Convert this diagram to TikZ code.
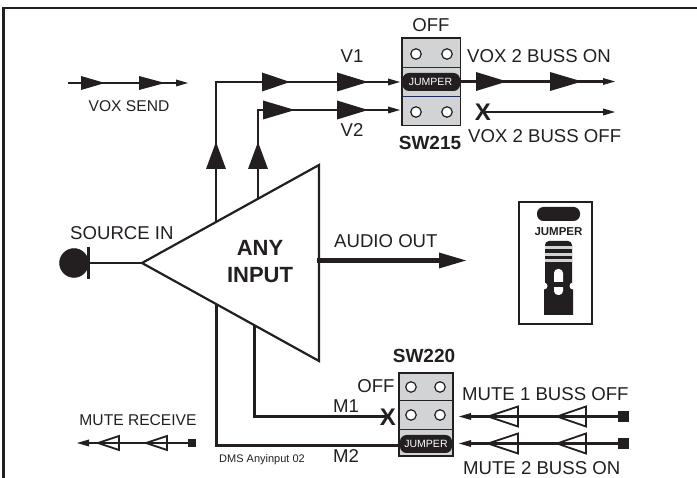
\documentclass[tikz,border=0pt]{standalone}
\usepackage{fontspec}
\setmainfont{Liberation Sans}
\definecolor{ink}{HTML}{231F20}
\definecolor{swgray}{HTML}{D1D3D4}
\definecolor{navy}{HTML}{1F2A5A}
\tikzset{
  x=1pt,y=-1pt,
  wire/.style={draw=ink,line width=2.2pt},
  lab/.style={font=\fontsize{18.6}{19}\selectfont,text=ink,inner sep=0pt,anchor=base west},
  labc/.style={font=\fontsize{18.6}{19}\selectfont,text=ink,inner sep=0pt,anchor=base},
  smallab/.style={font=\fontsize{15.6}{16}\selectfont,text=ink,inner sep=0pt,anchor=base},
  boldlab/.style={font=\bfseries\fontsize{19}{20}\selectfont,text=ink,inner sep=0pt,anchor=base},
  biglab/.style={font=\bfseries\fontsize{22}{23}\selectfont,text=ink,inner sep=0pt,anchor=base},
  xmark/.style={font=\bfseries\fontsize{24}{24}\selectfont,text=ink,inner sep=0pt},
  jump/.style={fill=ink,draw=none,rounded corners=6.5pt},
  jumptext/.style={font=\fontsize{10.5}{11}\selectfont,text=white,inner sep=0pt},
  hole/.style={circle,draw=ink,line width=1.2pt,fill=white,minimum size=10.5pt,inner sep=0pt},
  swbox/.style={draw=ink,line width=1.5pt,fill=swgray},
}
% solid right-pointing head: base x, tip x, y, half width
\newcommand{\hdR}[4]{\fill[ink] (#1,#3-#4) -- (#2,#3) -- (#1,#3+#4) -- cycle;}
% small heads
\newcommand{\tipR}[2]{\fill[ink] (#1-12,#2-3.5) -- (#1,#2) -- (#1-12,#2+3.5) -- cycle;}
\newcommand{\tipL}[2]{\fill[ink] (#1+12,#2-3.5) -- (#1,#2) -- (#1+12,#2+3.5) -- cycle;}
% hollow left-pointing head: tip x, base x, y, half width
\newcommand{\hdL}[4]{\draw[ink,line width=1.8pt,line join=miter] (#1,#3) -- (#2,#3-#4) -- (#2,#3+#4) -- cycle;}
\begin{document}
\begin{tikzpicture}
\useasboundingbox (0,0) rectangle (697,478);
\fill[white] (0,0) rectangle (697,478);
% frame
\draw[ink,line width=2.5pt] (3.5,478) -- (3.5,8) -- (697,8);

% amplifier
\coordinate (apex) at (142,263);
\coordinate (ampT) at (319,165);
\coordinate (ampB) at (319,361);
\coordinate (sourceEnd) at (88,263);
\draw[wire,line join=miter] (apex) -- (ampT) -- (ampB) -- cycle;
\node[biglab] (anyT) at (260,256) {ANY};
\node[biglab] (anyB) at (260,283) {INPUT};

% source
\node[circle,fill=ink,draw=ink,minimum size=29pt,inner sep=0pt] (src) at (74,263) {};
\draw[ink,line width=3pt] (88.5,247) -- (88.5,279);
\draw[wire] (sourceEnd) -- (apex);
\node[lab] (srcl) at (70,240) {SOURCE IN};

% audio out
\coordinate (aoS) at (317,260.5);
\coordinate (aoE) at (442,260.5);
\draw[ink,line width=5pt] (aoS) -- (aoE);
\hdR{439}{466}{260.5}{8}
\node[lab] (aol) at (334,248) {AUDIO OUT};

% VOX SEND legend
\coordinate (vsA) at (68,83);
\coordinate (vsB) at (180,83);
\draw[wire] (vsA) -- (vsB);
\hdR{81}{105}{83}{7}
\hdR{139}{165}{83}{7}
\tipR{188}{83}
\node[smallab] (vs) at (129,112) {VOX SEND};

% V1 / V2 / M1 / M2 runs
\coordinate (v1s) at (216,222);
\coordinate (v1c) at (216,82);
\coordinate (v1e) at (390,82);
\draw[wire] (v1s) -- (v1c) -- (v1e);
\coordinate (v2s) at (258,199);
\coordinate (v2c) at (258,110);
\coordinate (v2e) at (390,110);
\draw[wire] (v2s) -- (v2c) -- (v2e);
\fill[ink] (206,169) -- (216,142) -- (226,169) -- cycle;
\fill[ink] (248,169) -- (258,142) -- (268,169) -- cycle;
\hdR{262}{290}{82}{9.5}
\hdR{337}{368}{82}{9.5}
\tipR{400}{82}
\hdR{263}{295}{110}{9.5}
\hdR{337}{368}{110}{9.5}
\tipR{400}{110}
\node[labc] (v1) at (352,63) {V1};
\node[labc] (v2) at (352,137) {V2};

\coordinate (m1s) at (254.5,325);
\coordinate (m1c) at (254.5,416.5);
\coordinate (m1e) at (386,416.5);
\draw[wire] (m1s) -- (m1c) -- (m1e);
\coordinate (m2s) at (216.5,304);
\coordinate (m2c) at (216.5,445.5);
\coordinate (m2e) at (400,445.5);
\draw[wire] (m2s) -- (m2c) -- (m2e);
\node[lab] (m1) at (333,412.5) {M1};
\node[lab] (m2) at (333,463) {M2};
\node[xmark] (x2) at (388,417) {X};
\node[font=\fontsize{11}{11}\selectfont,text=ink,inner sep=0pt,anchor=base west] (dms) at (219,463) {DMS Anyinput 02};

% SW215
\path[swbox] (402,38) rectangle (460.5,125.5);
\draw[navy,line width=.8pt] (402,67) -- (461,67) (402,96.5) -- (461,96.5);
\node[hole] (h1) at (416,54) {};
\node[hole] (h2) at (447,54) {};
\node[hole] (h3) at (416,112) {};
\node[hole] (h4) at (447,112) {};
\fill[jump] (402.5,73) rectangle (460,91);
\node[jumptext] (j1) at (430.5,82) {JUMPER};
\node[labc] (off1) at (431,31.5) {OFF};
\node[boldlab] (sw215) at (430,150) {SW215};
\coordinate (onS) at (460,81.5);
\coordinate (onE) at (605,81.5);
\draw[wire] (onS) -- (onE);
\hdR{476}{507}{81.5}{9.5}
\hdR{550}{582}{81.5}{9.5}
\tipR{615}{81.5}
\node[lab] (on) at (467,63) {VOX 2 BUSS ON};
\coordinate (offS) at (483,112);
\coordinate (offE) at (605,112);
\draw[wire] (offS) -- (offE);
\tipR{615}{112}
\node[xmark] (x1) at (483,112) {X};
\node[lab] (off) at (468,143) {VOX 2 BUSS OFF};

% SW220
\path[swbox] (399,373) rectangle (453,456);
\draw[ink,line width=1pt] (399,400.5) -- (453,400.5);
\draw[navy,line width=.8pt] (399,429) -- (453,429);
\node[hole] (h5) at (411,387) {};
\node[hole] (h6) at (440,387) {};
\node[hole] (h7) at (411,415) {};
\node[hole] (h8) at (440,415) {};
\fill[jump] (400,435) rectangle (452,453);
\node[jumptext] (j2) at (426,444) {JUMPER};
\node[boldlab] (sw220) at (424,363) {SW220};
\node[labc] (off2) at (376,393) {OFF};
\node[lab] (m1on) at (462,400.5) {MUTE 1 BUSS OFF};
\node[lab] (m2on) at (463,474.5) {MUTE 2 BUSS ON};
\node[fill=ink,minimum size=10.5pt,inner sep=0pt] (sq1) at (623.5,416.5) {};
\node[fill=ink,minimum size=10.5pt,inner sep=0pt] (sq2) at (623.5,443.5) {};
\coordinate (t1) at (465,416.5);
\coordinate (t2) at (465,443.5);
\draw[wire] (sq1) -- (t1);
\draw[wire] (sq2) -- (t2);
\tipL{459}{416.5}
\tipL{459}{443.5}
\hdL{488}{518}{416.5}{10}
\hdL{557}{586}{416.5}{10}
\hdL{488}{518}{443.5}{10}
\hdL{557}{586}{443.5}{10}

% MUTE RECEIVE legend
\node[fill=ink,minimum size=8pt,inner sep=0pt] (sq3) at (192,443) {};
\coordinate (t3) at (84,443);
\draw[wire] (sq3) -- (t3);
\tipL{77}{443}
\hdL{98}{119}{443}{7}
\hdL{146}{167}{443}{7}
\node[smallab] (mr) at (138,426) {MUTE RECEIVE};

% jumper legend
\draw[ink,line width=2.2pt,fill=white] (519,202) rectangle (592,324);
\fill[ink,rounded corners=6.5pt] (537,207) rectangle (580,221);
\node[font=\bfseries\fontsize{11.5}{12}\selectfont,text=ink,inner sep=0pt] (jl) at (558.5,232) {JUMPER};
\fill[ink,rounded corners=4pt] (545,286) -- (545,241) -- (572,241) -- (572,286) [sharp corners] -- (573,286) -- (573,315) -- (544,315) -- (544,286) -- cycle;
\foreach \yy in {248,254.5,261} \fill[swgray] (545,\yy-1.5) rectangle (572,\yy+1.5);
\fill[white] (544,286) circle (3.5) (573,286) circle (3.5);
\fill[white,rounded corners=4pt] (554,269) rectangle (563,295);
\fill[ink] (553.5,282) rectangle (563.5,287);
\end{tikzpicture}
\end{document}
